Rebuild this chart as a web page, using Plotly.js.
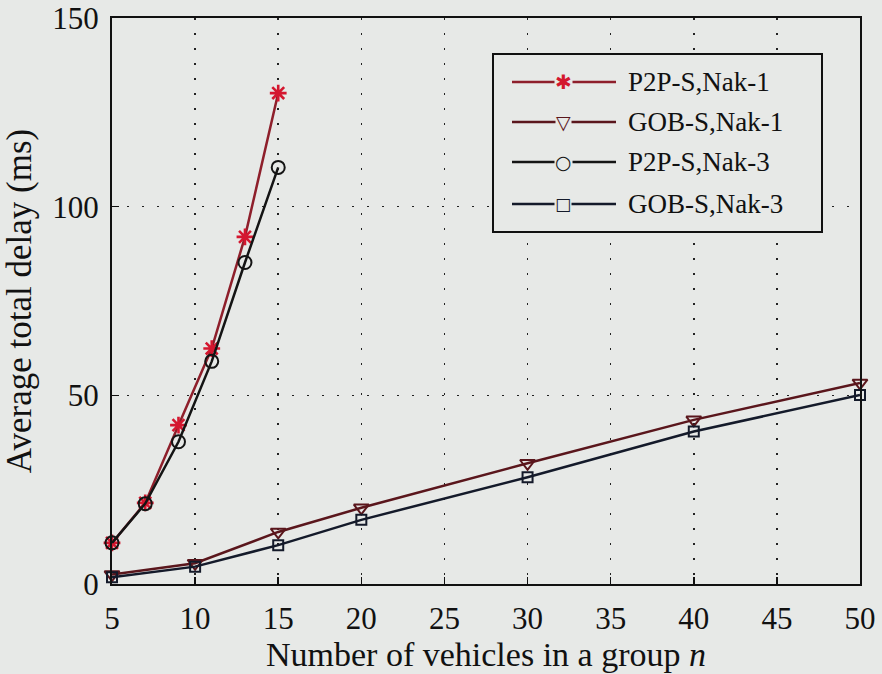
<!DOCTYPE html>
<html>
<head>
<meta charset="utf-8">
<script src="https://cdn.plot.ly/plotly-3.0.1.min.js"></script>
<style>
  html, body { margin: 0; padding: 0; background: #e7e9e7; }
  #chart { width: 882px; height: 674px; }
  #warm { position: absolute; left: -9999px; top: 0; font-family: 'Liberation Serif'; font-size: 27px; }
</style>
</head>
<body>
<!-- uses the serif face early so it is ready when the chart measures its labels -->
<div id="warm">Average 150 <i>n</i> <b>P2P</b></div>
<div id="chart"></div>
<script>
// Group sizes for the peer-to-peer schemes and for the group-broadcast schemes
const nP2P = [5, 7, 9, 11, 13, 15];
const nGOB = [5, 10, 15, 20, 30, 40, 50];

// Average total delay (ms)
const p2pNak1 = [10.9, 21.5, 42.1, 62.4, 92.0, 130.1];
const gobNak1 = [2.5, 5.5, 13.8, 20.2, 32.0, 43.5, 53.3];
const p2pNak3 = [10.9, 21.3, 37.7, 59.0, 85.2, 110.4];
const gobNak3 = [1.8, 4.6, 10.3, 17.0, 28.3, 40.4, 50.1];

const seriesNames = ['P2P-S,Nak-1', 'GOB-S,Nak-1', 'P2P-S,Nak-3', 'GOB-S,Nak-3'];
const xTicks = [5, 10, 15, 20, 25, 30, 35, 40, 45, 50];
const yTicks = [0, 50, 100, 150];

// Typefaces: serif for labels, a symbol-rich sans for the key glyphs
const faces = ['Liberation Serif', 'DejaVu Sans'];
const SERIF = faces[0];
const SYMBOLS = faces[1];
const BG = '#e7e9e7';

const styles = [
  { line: '#8e1f2b', marker: '#d4172f', symbol: 'asterisk-open', size: 14, mw: 2.6, glyph: '✱', gsize: 20 },
  { line: '#5a161c', marker: '#5a161c', symbol: 'triangle-down-open', size: 13, mw: 2, glyph: '▽', gsize: 19 },
  { line: '#141414', marker: '#141414', symbol: 'circle-open', size: 13, mw: 2, glyph: '○', gsize: 19 },
  { line: '#141a2a', marker: '#141a2a', symbol: 'square-open', size: 10, mw: 2, glyph: '□', gsize: 17 }
];

const xs = [nP2P, nGOB, nP2P, nGOB];
const ys = [p2pNak1, gobNak1, p2pNak3, gobNak3];

const traces = ys.map((y, i) => ({
  type: 'scatter',
  mode: 'lines+markers',
  name: seriesNames[i],
  x: xs[i],
  y: y,
  line: { color: styles[i].line, width: 2.5 },
  marker: {
    symbol: styles[i].symbol,
    size: styles[i].size,
    color: styles[i].marker,
    line: { color: styles[i].marker, width: styles[i].mw }
  },
  showlegend: false,
  cliponaxis: false
}));

// Page geometry (pixels) used to place the legend key
const W = 882, H = 674, M = { l: 112, r: 22, t: 18, b: 90 };
const px = v => (v - M.l) / (W - M.l - M.r);
const py = v => (H - M.b - v) / (H - M.t - M.b);
const box = { x0: 493, x1: 822, y0: 54, y1: 232 };
const keyRowsPx = [82, 122, 162, 204];
const keyLine = { x0: 512, x1: 616, mark: 563, text: 626 };

const shapes = [{
  type: 'rect', xref: 'paper', yref: 'paper',
  x0: px(box.x0), x1: px(box.x1), y0: py(box.y1), y1: py(box.y0),
  line: { color: '#111', width: 2 }, fillcolor: BG, layer: 'above'
}];
const annotations = [];
keyRowsPx.forEach((yPix, i) => {
  shapes.push({
    type: 'line', xref: 'paper', yref: 'paper',
    x0: px(keyLine.x0), x1: px(keyLine.x1), y0: py(yPix), y1: py(yPix),
    line: { color: styles[i].line, width: 2.5 }, layer: 'above'
  });
  annotations.push({
    xref: 'paper', yref: 'paper', x: px(keyLine.mark), y: py(yPix),
    xanchor: 'center', yanchor: 'middle', showarrow: false,
    text: styles[i].glyph, bgcolor: BG, borderpad: 0,
    font: { family: SYMBOLS, size: styles[i].gsize, color: styles[i].marker }
  });
  annotations.push({
    xref: 'paper', yref: 'paper', x: px(keyLine.text), y: py(yPix),
    xanchor: 'left', yanchor: 'middle', showarrow: false,
    text: seriesNames[i], font: { family: SERIF, size: 27, color: '#111' }
  });
});

const axisCommon = {
  showline: true, linecolor: '#111', linewidth: 2, mirror: true,
  ticks: 'inside', ticklen: 7, tickwidth: 1.5, tickcolor: '#111',
  showgrid: true, gridcolor: '#222', gridwidth: 1.6, griddash: '2px,13px',
  zeroline: false,
  tickfont: { family: SERIF, size: 31, color: '#111' }
};

const layout = {
  width: W, height: H,
  margin: M,
  paper_bgcolor: BG, plot_bgcolor: BG,
  showlegend: false,
  xaxis: Object.assign({}, axisCommon, {
    range: [5, 50], tickvals: xTicks, ticktext: xTicks.map(String),
    ticklabelstandoff: 6,
    title: { text: 'Number of vehicles in a group <i>n</i>', font: { family: SERIF, size: 34, color: '#111' }, standoff: 4 }
  }),
  yaxis: Object.assign({}, axisCommon, {
    range: [0, 150], tickvals: yTicks, ticktext: yTicks.map(String),
    ticklabelstandoff: 5,
    title: { text: 'Average total delay (ms)', font: { family: SERIF, size: 35, color: '#111' }, standoff: 12 }
  }),
  shapes: shapes,
  annotations: annotations
};

const config = { displayModeBar: false, staticPlot: true };
const draw = () => Plotly.newPlot('chart', traces, layout, config);

draw();
// redraw once the serif face is available so label sizes are measured with it
if (document.fonts && document.fonts.load) {
  Promise.all([
    document.fonts.load('27px "' + SERIF + '"'),
    document.fonts.load('italic 27px "' + SERIF + '"'),
    document.fonts.load('20px "' + SYMBOLS + '"')
  ]).then(() => document.fonts.ready).then(draw).catch(() => {});
}
</script>
</body>
</html>
